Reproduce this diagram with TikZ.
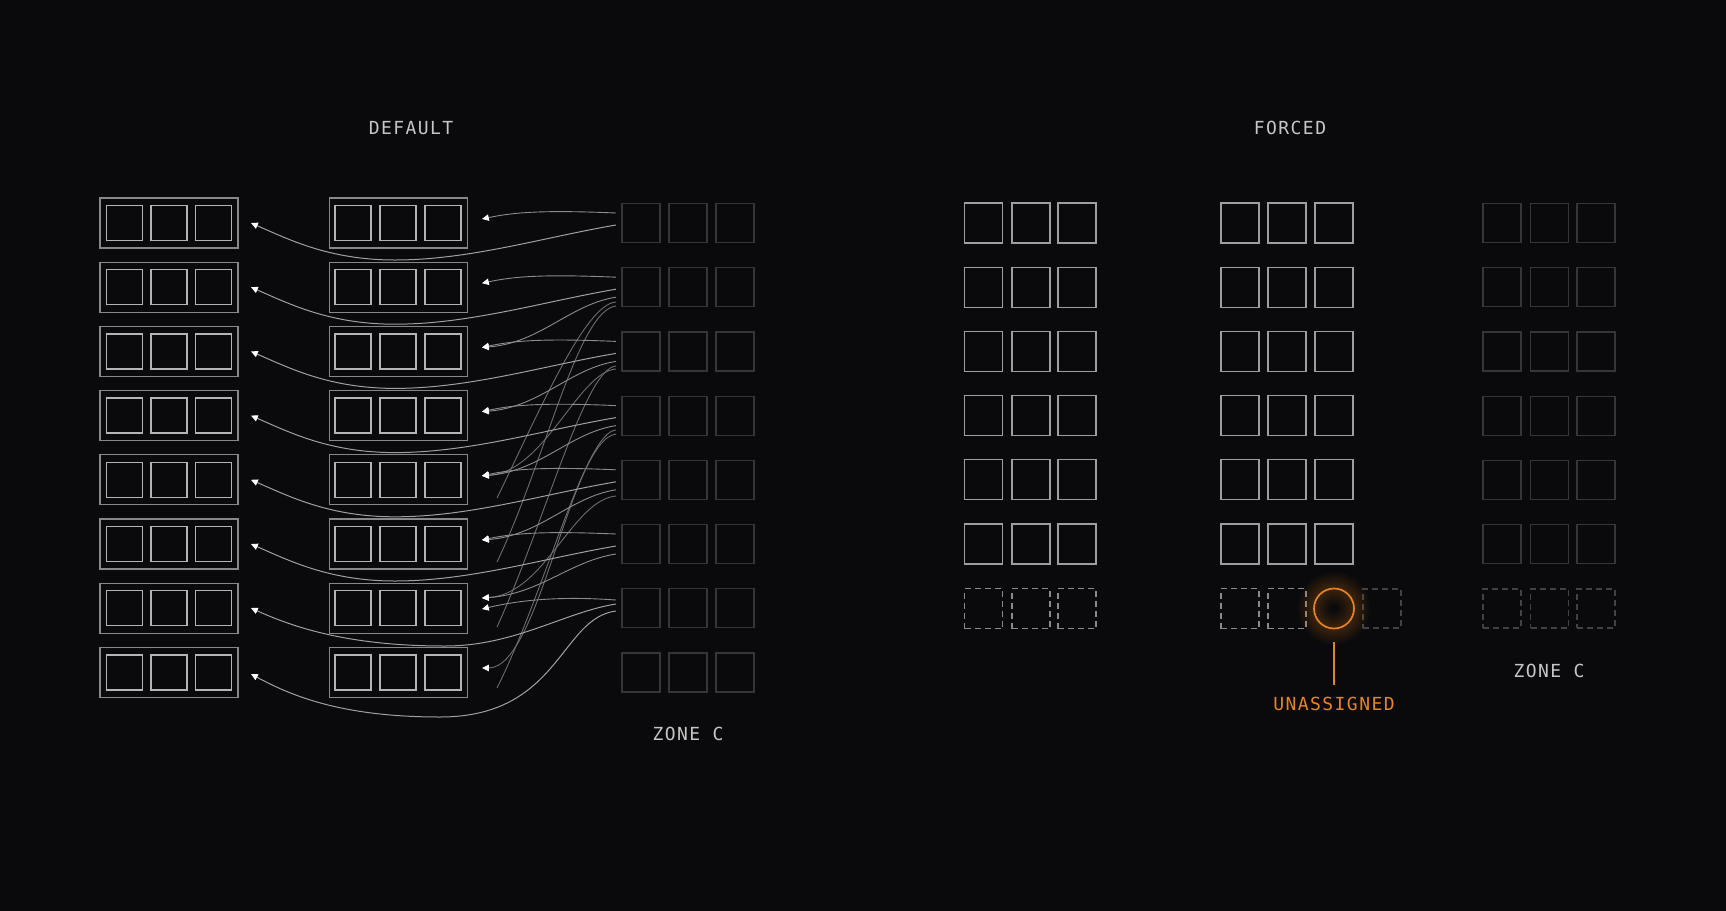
\documentclass[tikz,border=0pt]{standalone}
\usepackage{fontspec}
\newfontfamily\lblfont[LetterSpace=8]{DejaVu Sans Mono}
\usetikzlibrary{arrows.meta}
\definecolor{bg}{HTML}{0A0A0C}
\definecolor{boxout}{HTML}{888888}
\definecolor{boxin}{HTML}{B4B4B4}
\definecolor{dimc}{HTML}{363636}
\definecolor{solc}{HTML}{9E9E9E}
\definecolor{dashd}{HTML}{8A8A8A}
\definecolor{dimdash}{HTML}{424242}
\definecolor{txt}{HTML}{C6C6C6}
\definecolor{orng}{HTML}{E8841F}
\definecolor{alinec}{HTML}{A0A0A0}
\definecolor{blinec}{HTML}{8C8C8C}
\definecolor{steepc}{HTML}{6C6C6C}
\begin{document}
\begin{tikzpicture}[x=0.5pt,y=-0.5pt,
  outerbox/.style={draw=boxout,line width=0.55pt,minimum width=69pt,minimum height=25pt,inner sep=0pt,outer sep=0pt},
  innersq/.style={draw=boxin,line width=0.65pt,minimum width=18pt,minimum height=17.5pt,inner sep=0pt,outer sep=0pt},
  dimsq/.style={draw=dimc,line width=0.6pt,minimum width=19pt,minimum height=19.5pt,inner sep=0pt,outer sep=0pt},
  solsq/.style={draw=solc,line width=0.65pt,minimum width=19pt,minimum height=20pt,inner sep=0pt,outer sep=0pt},
  dashsq/.style={solsq,draw=dashd,dash pattern=on 3pt off 2pt},
  dimdashsq/.style={dimsq,draw=dimdash,dash pattern=on 3pt off 2pt},
  lbl/.style={text=txt,font=\lblfont\fontsize{9pt}{11pt}\selectfont,inner sep=0pt},
  tipw/.style={-{Triangle[length=3.4pt,width=3.2pt,color=white]}},
  aline/.style={draw=alinec,line width=0.5pt,tipw},
  bline/.style={draw=blinec,line width=0.45pt,tipw},
  sline/.style={draw=steepc,line width=0.45pt},
  sarrow/.style={draw=steepc,line width=0.45pt,tipw}
]
\fill[bg] (0,0) rectangle (1726,911);
\useasboundingbox (0,0) rectangle (1726,911);

% ---------- titles ----------
\node[lbl] (tdef) at (411,128) {DEFAULT};
\node[lbl] (tfor) at (1290,128) {FORCED};

% ---------- DEFAULT: columns A, B, C ----------
\foreach \i in {1,...,8} {
  \pgfmathsetmacro\c{223+64.2*(\i-1)}
  \node[outerbox] (A\i) at (169,\c) {};
  \foreach \j/\x in {1/124.5,2/169,3/213.5} {\node[innersq] (A\i-\j) at (\x,\c) {};}
  \node[outerbox] (B\i) at (398.5,\c) {};
  \foreach \j/\x in {1/353,2/398,3/443} {\node[innersq] (B\i-\j) at (\x,\c) {};}
  \foreach \j/\x in {1/641,2/688,3/735} {\node[dimsq] (C\i-\j) at (\x,\c) {};}
}
\node[lbl] (zc1) at (688,734) {ZONE C};

% ---------- connector end points ----------
\foreach \i in {1,...,6} {
  \pgfmathsetmacro\c{223+64.2*(\i-1)}
  \coordinate (sA\i) at (616,\c+2);
  \coordinate (tA\i) at (251,\c);
  \coordinate (sB\i) at (616,\c-10);
  \coordinate (tB\i) at (482,\c-4);
  \coordinate (sX\i) at (616,\c+10);
}
\coordinate (tA7) at (251,608);
\coordinate (tA8) at (251,674);
\coordinate (sA7) at (616,604);
\coordinate (sA8) at (616,611);
\coordinate (sB7) at (616,600);
\coordinate (tB7u) at (482,598);
\coordinate (tB7l) at (482,609);
\coordinate (tB8) at (482,668);
\coordinate (sF1) at (616,302);
\coordinate (sF2) at (616,306);
\coordinate (sF3) at (616,366);
\coordinate (sF4) at (616,430);
\coordinate (sJ8) at (616,434);
\coordinate (sY3) at (616,369);
\coordinate (sY5) at (616,496);
\coordinate (eF1) at (497,498);
\coordinate (eF2) at (497,562);
\coordinate (eF3) at (497,627);
\coordinate (eF4) at (497,688);

% ---------- steep / free lines ----------
\draw[sline] (sF1) .. controls (585,304) and (540,410) .. (eF1);
\draw[sline] (sF2) .. controls (578,310) and (545,462) .. (eF2);
\draw[sline] (sF3) .. controls (585,368) and (545,522) .. (eF3);
\draw[sline] (sF4) .. controls (585,432) and (545,592) .. (eF4);
\draw[sarrow] (sJ8) .. controls (570,440) and (540,668) .. (tB8);
\draw[sarrow] (sY3) .. controls (578,372) and (545,472) .. (tB5);
\draw[sarrow] (sY5) .. controls (572,500) and (545,594) .. (tB7u);

% ---------- cross lines C_i -> B_{i+1} ----------
\foreach \i in {2,...,5} {
  \pgfmathsetmacro\c{223+64.2*(\i-1)}
  \pgfmathtruncatemacro\k{\i+1}
  \draw[bline] (sX\i) .. controls (570,\c+17) and (540,\c+56) .. (tB\k);
}
\draw[bline] (sX6) .. controls (570,561) and (540,594) .. (tB7u);

% ---------- horizontal lines C_i -> B_i ----------
\foreach \i in {1,...,6} {
  \pgfmathsetmacro\c{223+64.2*(\i-1)}
  \draw[bline] (sB\i) .. controls (545,\c-13) and (515,\c-11) .. (tB\i);
}
\draw[bline] (sB7) .. controls (560,596) and (520,600) .. (tB7l);

% ---------- long lines C_i -> A_i ----------
\foreach \i in {1,...,6} {
  \pgfmathsetmacro\c{223+64.2*(\i-1)}
  \draw[aline] (sA\i) .. controls (545,\c+14) and (470,\c+37) .. (395,\c+37)
     .. controls (330,\c+37) and (290,\c+17) .. (tA\i);
}
\draw[aline] (sA7) .. controls (565,612) and (515,646) .. (445,646)
   .. controls (350,646) and (295,628) .. (tA7);
\draw[aline] (sA8) .. controls (560,618) and (560,717) .. (440,717)
   .. controls (340,717) and (290,695) .. (tA8);

% ---------- FORCED: columns D, E, F ----------
\foreach \i in {1,...,6} {
  \pgfmathsetmacro\c{223+64.2*(\i-1)}
  \foreach \j/\x in {1/983.5,2/1031,3/1077} {\node[solsq] (D\i-\j) at (\x,\c) {};}
  \foreach \j/\x in {1/1240,2/1287,3/1334} {\node[solsq] (E\i-\j) at (\x,\c) {};}
  \foreach \j/\x in {1/1502,2/1549.5,3/1596} {\node[dimsq] (F\i-\j) at (\x,\c) {};}
}
\foreach \j/\x in {1/983.5,2/1031,3/1077} {\node[dashsq] (D7-\j) at (\x,608.5) {};}
\foreach \j/\x in {1/1240,2/1287} {\node[dashsq] (E7-\j) at (\x,608.5) {};}
\node[dimdashsq] (E7-4) at (1382,608.5) {};
\foreach \j/\x in {1/1502,2/1549.5,3/1596} {\node[dimdashsq] (F7-\j) at (\x,608.5) {};}

% glow + unassigned circle
\foreach \w in {2,4,...,16} {
  \draw[orng,opacity=0.03,line width=\w pt] (1334,608.5) circle[radius=10pt];
}
\node[circle,draw=orng,line width=0.85pt,minimum size=20pt,inner sep=0pt,outer sep=0pt] (U) at (1334,608.5) {};
\coordinate (ul1) at (1334,642);
\coordinate (ul2) at (1334,685);
\draw[orng,line width=0.55pt] (ul1) -- (ul2);
\node[lbl,text=orng] (un) at (1334,704) {UNASSIGNED};
\node[lbl] (zc2) at (1549,671) {ZONE C};
\end{tikzpicture}
\end{document}
